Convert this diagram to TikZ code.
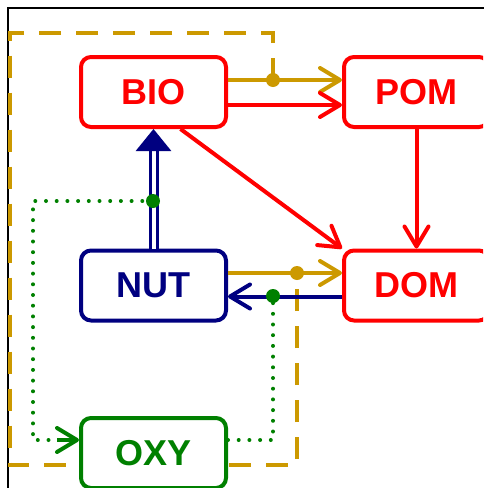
\documentclass[tikz,border=0pt]{standalone}
\usepackage{fontspec}
\setmainfont{Liberation Sans}
\usetikzlibrary{arrows.meta, backgrounds}
\definecolor{gold}{RGB}{204,153,0}
\definecolor{navy}{RGB}{0,0,128}
\definecolor{leaf}{RGB}{0,128,0}

\begin{document}
\begin{tikzpicture}[x=1pt, y=-1pt,
    pool/.style={draw=#1, text=#1, line width=4pt, rounded corners=10pt, fill=white,
        minimum width=145pt, minimum height=70pt,
        font=\fontsize{36}{40}\selectfont\bfseries},
    flux/.style={line width=4pt, -{Straight Barb[length=20pt, width=24pt, round]}},
    ctrl/.style={gold, line width=4pt, dash pattern=on 22pt off 15pt},
    limit/.style={leaf, line width=4pt, line cap=round, dash pattern=on 0pt off 10.7pt},
    knot/.style={circle, fill, inner sep=0pt, minimum size=14pt}]
    \useasboundingbox (0,0) rectangle (483,488);
    \clip (0,0) rectangle (483,488);

    % pools
    \node[pool=red] (BIO) at (153.5,92) {BIO};
    \node[pool=red] (POM) at (416.5,92) {POM};
    \node[pool=navy] (NUT) at (153.5,285.5) {NUT};
    \node[pool=red] (DOM) at (416.5,285.5) {DOM};
    \node[pool=leaf] (OXY) at (153.5,453) {OXY};

    % taps on the fluxes
    \coordinate (tapBP) at (273,80);
    \coordinate (tapND) at (297,273);
    \coordinate (tapUP) at (153,201);
    \coordinate (tapDN) at (273,296);

    % frame and light control (behind)
    \begin{scope}[on background layer]
        \draw[line width=2pt] (7.5,520) -- (7.5,7.5) -- (520,7.5);
        \draw[ctrl] (tapBP) -- (273,33) -- (9.5,33) -- (9.5,465) -- (297,465) -- (tapND);
    \end{scope}

    % fluxes
    \draw[flux, gold] ([yshift=12pt]BIO.east) -- ([yshift=12pt]POM.west);
    \draw[flux, red] ([yshift=-13pt]BIO.east) -- ([yshift=-13pt]POM.west);
    \draw[flux, red] ([xshift=27pt]BIO.south) -- (DOM.north west);
    \draw[flux, red] (POM.south) -- (DOM.north);
    \draw[flux, gold] ([yshift=12.5pt]NUT.east) -- ([yshift=12.5pt]DOM.west);
    \draw[flux, navy] ([yshift=-11pt]DOM.west) -- ([yshift=-11pt]NUT.east);

    % uptake (double)
    \draw[navy, line width=3pt, double, double distance=4pt,
        -{Triangle[width=35pt, length=22pt]}] (NUT.north) -- (BIO.south);

    % oxygen limitation
    \draw[limit] (tapUP) -| (33,440) -- ([yshift=13pt]OXY.west);
    \draw[flux, leaf] ([yshift=13pt,xshift=-22pt]OXY.west) -- ([yshift=13pt]OXY.west);
    \draw[limit] ([yshift=13pt]OXY.east) -| (tapDN);

    % dots
    \node[knot, gold] at (tapBP) {};
    \node[knot, gold] at (tapND) {};
    \node[knot, leaf] at (tapUP) {};
    \node[knot, leaf] at (tapDN) {};
\end{tikzpicture}
\end{document}
